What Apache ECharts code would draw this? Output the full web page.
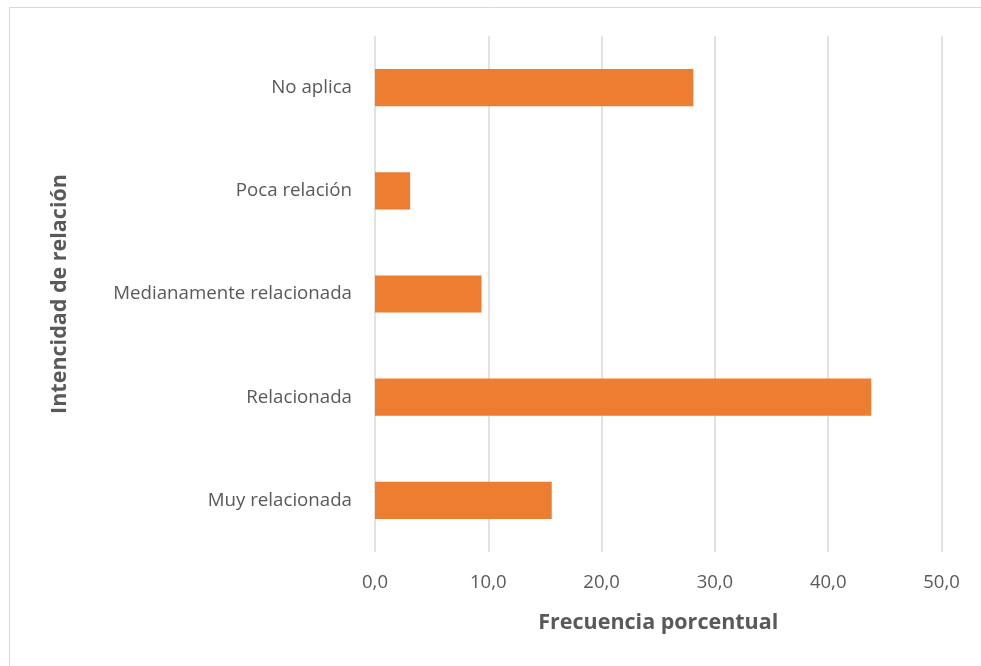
<!DOCTYPE html>
<html>
<head>
<meta charset="utf-8">
<script src="https://cdn.jsdelivr.net/npm/echarts@6/dist/echarts.min.js"></script>
<style>
html,body{margin:0;padding:0;background:#fff;}
#chart{width:981px;height:666px;}
</style>
</head>
<body>
<div id="chart"></div>
<script>
const categories = ["Muy relacionada", "Relacionada", "Medianamente relacionada", "Poca relación", "No aplica"];
const values = [15.6, 43.8, 9.4, 3.1, 28.1];
const xTicks = [0, 10, 20, 30, 40, 50];
const xTitle = "Frecuencia porcentual";
const yTitle = "Intencidad de relación";

const chart = echarts.init(document.getElementById('chart'), null, {renderer: 'canvas'});
const font = '"Open Sans", "Noto Sans", sans-serif';
chart.setOption({
  animation: false,
  backgroundColor: '#ffffff',
  graphic: [{
    type: 'rect', shape: {x: 9.5, y: 7.5, width: 1000, height: 700},
    style: {fill: 'none', stroke: '#d9d9d9', lineWidth: 1}, silent: true, z: -10
  }],
  grid: {left: 375, right: 39.5, top: 36, bottom: 114},
  xAxis: {
    type: 'value', min: xTicks[0], max: xTicks[xTicks.length - 1], interval: 10,
    name: xTitle, nameLocation: 'middle', nameGap: 60,
    nameTextStyle: {fontFamily: font, fontSize: 21.5, fontWeight: 'bold', color: '#595959'},
    axisLine: {show: false}, axisTick: {show: false},
    axisLabel: {margin: 21, fontFamily: font, fontSize: 18.5, color: '#595959',
      formatter: v => v.toFixed(1).replace('.', ',')},
    splitLine: {show: true, lineStyle: {color: '#d9d9d9', width: 1.5}}
  },
  yAxis: {
    type: 'category', data: categories,
    name: yTitle, nameLocation: 'middle', nameGap: 304, nameRotate: 90,
    nameTextStyle: {fontFamily: font, fontSize: 21.5, fontWeight: 'bold', color: '#595959'},
    axisLine: {show: false}, axisTick: {show: false},
    axisLabel: {margin: 23, fontFamily: font, fontSize: 18.7, color: '#595959'},
    splitLine: {show: false}
  },
  series: [{
    type: 'bar', data: values, barCategoryGap: '64%',
    itemStyle: {color: '#ED7D31'}
  }]
});
</script>
</body>
</html>
